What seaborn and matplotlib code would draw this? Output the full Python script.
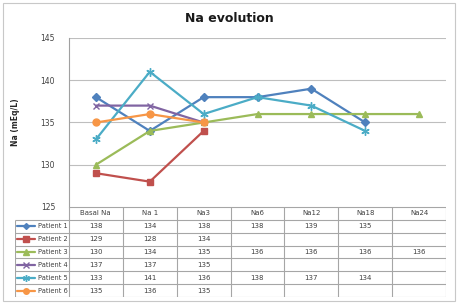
import numpy as np
import pandas as pd
import matplotlib
matplotlib.use("Agg")
import matplotlib.pyplot as plt
import seaborn as sns
from matplotlib.patches import Rectangle

# data
categories = ["Basal Na", "Na 1", "Na3", "Na6", "Na12", "Na18", "Na24"]
patients = ["Patient 1", "Patient 2", "Patient 3", "Patient 4", "Patient 5", "Patient 6"]
patient_1 = [138, 134, 138, 138, 139, 135, np.nan]
patient_2 = [129, 128, 134, np.nan, np.nan, np.nan, np.nan]
patient_3 = [130, 134, 135, 136, 136, 136, 136]
patient_4 = [137, 137, 135, np.nan, np.nan, np.nan, np.nan]
patient_5 = [133, 141, 136, 138, 137, 134, np.nan]
patient_6 = [135, 136, 135, np.nan, np.nan, np.nan, np.nan]
values = [patient_1, patient_2, patient_3, patient_4, patient_5, patient_6]

colors = ["#4F81BD", "#C0504D", "#9BBB59", "#8064A2", "#4BACC6", "#F79646"]
markers = ["D", "s", "^", "x", (6, 2, 0), "o"]
msizes = [4, 5, 5, 5, 6, 5]

rows = []
for p, vals in zip(patients, values):
    for i, (c, v) in enumerate(zip(categories, vals)):
        rows.append({"patient": p, "pos": i, "category": c, "na": v})
df = pd.DataFrame(rows)

sns.set_style("white")
plt.rcParams["font.family"] = ["DejaVu Sans"]

W, H = 458, 304
fig = plt.figure(figsize=(W / 100, H / 100), dpi=100)
fig.patches.append(Rectangle((3 / W, 3 / H), 452 / W, 298 / H, transform=fig.transFigure,
                             fill=False, edgecolor="#C8C8C8", lw=0.8))

ax = fig.add_axes([69 / W, 1 - 207 / H, 377 / W, 169 / H])
for p, col, mk, ms in zip(patients, colors, markers, msizes):
    d = df[(df["patient"] == p) & df["na"].notna()]
    sns.lineplot(data=d, x="pos", y="na", ax=ax, color=col, marker=mk, markersize=ms,
                 markeredgecolor=col, markeredgewidth=1.0, lw=1.6, legend=False)

ax.set_xlim(-0.5, len(categories) - 0.5)
ax.set_ylim(125, 145)
ax.set_yticks(np.arange(125, 146, 5))
ax.set_xticks([])
ax.tick_params(axis="y", labelsize=5.5, length=0, pad=10, colors="#404040")
ax.yaxis.grid(True, color="#BEBEBE", lw=0.8)
for s in ["top", "right", "bottom"]:
    ax.spines[s].set_visible(False)
ax.spines["left"].set_color("#A0A0A0")
ax.spines["left"].set_linewidth(0.8)
ax.set_xlabel("")
ax.set_ylabel("Na (mEq/L)", fontsize=5.5, fontweight="bold", labelpad=15)
fig.text(0.5, 1 - 18 / H, "Na evolution", ha="center", va="center",
         fontsize=9, fontweight="bold", color="#1a1a1a")

# data table under the plot
tax = fig.add_axes([15 / W, 1 - 297 / H, 431 / W, 90 / H])
n_rows = len(patients) + 1
tax.set_xlim(-1.5, len(categories) - 0.5)
tax.set_ylim(n_rows, 0)
tax.axis("off")
lc = "#A6A6A6"
# horizontal lines
tax.hlines(0, -0.5, len(categories) - 0.5, color=lc, lw=0.8)
tax.hlines(np.arange(1, n_rows + 1), -1.5, len(categories) - 0.5, color=lc, lw=0.8)
# vertical lines
tax.vlines(np.arange(len(categories) + 1) - 0.5, 0, n_rows, color=lc, lw=0.8)
tax.vlines(-1.5, 1, n_rows, color=lc, lw=0.8)

for i, c in enumerate(categories):
    tax.text(i, 0.5, c, ha="center", va="center", fontsize=5, color="#404040")
for r, (p, vals, col, mk, ms) in enumerate(zip(patients, values, colors, markers, msizes), start=1):
    tax.plot([-1.46, -1.12], [r + 0.5, r + 0.5], color=col, lw=1.6, clip_on=False)
    tax.plot([-1.29], [r + 0.5], marker=mk, color=col, markersize=ms - 1,
             markeredgecolor=col, markeredgewidth=1.0, clip_on=False)
    tax.text(-0.53, r + 0.5, p, ha="right", va="center", fontsize=4.8, color="#404040")
    for i, v in enumerate(vals):
        if not np.isnan(v):
            tax.text(i, r + 0.5, f"{int(v)}", ha="center", va="center", fontsize=5, color="#404040")

fig.savefig("out.png", dpi=100)
